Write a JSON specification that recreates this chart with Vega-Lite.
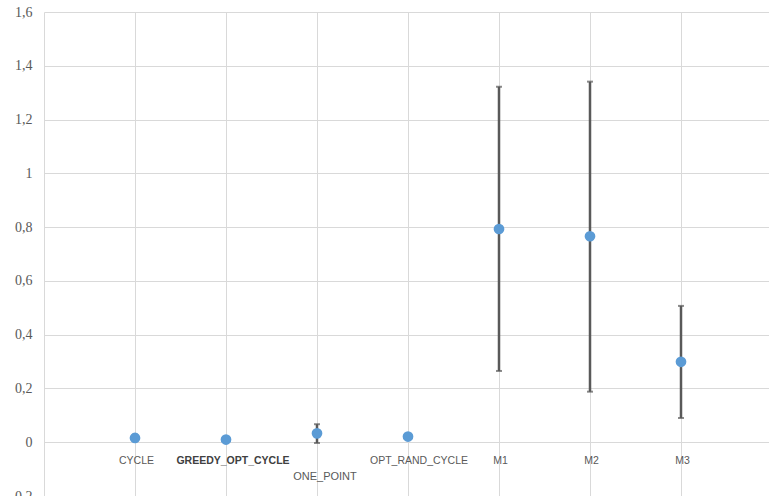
{
  "$schema": "https://vega.github.io/schema/vega-lite/v6.json",
  "autosize": "none",
  "padding": {"left": 44, "top": 12, "right": 0, "bottom": 0},
  "width": 728,
  "height": 484,
  "background": "white",
  "config": {"view": {"stroke": null}},
  "data": {
    "values": [
      {"cat": "CYCLE", "x": 1, "mean": 0.016, "lo": 0.006, "hi": 0.028},
      {"cat": "GREEDY_OPT_CYCLE", "x": 2, "mean": 0.010, "lo": 0.008, "hi": 0.012},
      {"cat": "ONE_POINT", "x": 3, "mean": 0.033, "lo": -0.003, "hi": 0.067},
      {"cat": "OPT_RAND_CYCLE", "x": 4, "mean": 0.021, "lo": 0.019, "hi": 0.023},
      {"cat": "M1", "x": 5, "mean": 0.793, "lo": 0.265, "hi": 1.322},
      {"cat": "M2", "x": 6, "mean": 0.766, "lo": 0.188, "hi": 1.341},
      {"cat": "M3", "x": 7, "mean": 0.299, "lo": 0.090, "hi": 0.507}
    ]
  },
  "encoding": {
    "x": {
      "field": "x", "type": "quantitative",
      "scale": {"domain": [0, 8], "nice": false, "zero": false},
      "axis": {"values": [0,1,2,3,4,5,6,7,8], "labels": false, "ticks": false, "domain": false, "title": null, "grid": true, "gridColor": "#D9D9D9", "gridWidth": 1}
    }
  },
  "layer": [
    {
      "mark": {"type": "rule", "color": "#595959", "strokeWidth": 2.5},
      "encoding": {
        "y": {
          "field": "lo", "type": "quantitative",
          "scale": {"domain": [-0.2, 1.6], "nice": false, "zero": false},
          "axis": {
            "values": [-0.2, 0, 0.2, 0.4, 0.6, 0.8, 1, 1.2, 1.4, 1.6],
            "labelExpr": "replace(toString(round(datum.value*10)/10), '.', ',')",
            "domain": false, "ticks": false, "title": null,
            "grid": true, "gridColor": "#D9D9D9", "gridWidth": 1,
            "labelFont": "Liberation Serif", "labelFontSize": 14, "labelColor": "#595959", "labelPadding": 12
          }
        },
        "y2": {"field": "hi"}
      }
    },
    {
      "mark": {"type": "tick", "orient": "horizontal", "color": "#595959", "size": 6, "thickness": 2},
      "encoding": {"y": {"field": "lo", "type": "quantitative"}}
    },
    {
      "mark": {"type": "tick", "orient": "horizontal", "color": "#595959", "size": 6, "thickness": 2},
      "encoding": {"y": {"field": "hi", "type": "quantitative"}}
    },
    {
      "mark": {"type": "circle", "color": "#5B9BD5", "opacity": 1, "size": 115},
      "encoding": {"y": {"field": "mean", "type": "quantitative"}}
    },
    {
      "transform": [{"filter": "datum.cat === 'CYCLE' || datum.cat === 'M1' || datum.cat === 'M2' || datum.cat === 'M3'"}],
      "mark": {"type": "text", "font": "Liberation Sans", "fontSize": 10.5, "color": "#595959", "dy": 19, "dx": 1.5, "baseline": "middle"},
      "encoding": {"y": {"datum": 0, "type": "quantitative"}, "text": {"field": "cat"}}
    },
    {
      "transform": [{"filter": "datum.cat === 'OPT_RAND_CYCLE'"}],
      "mark": {"type": "text", "font": "Liberation Sans", "fontSize": 10.5, "color": "#595959", "dy": 19, "dx": 11, "baseline": "middle"},
      "encoding": {"y": {"datum": 0, "type": "quantitative"}, "text": {"field": "cat"}}
    },
    {
      "transform": [{"filter": "datum.cat === 'GREEDY_OPT_CYCLE'"}],
      "mark": {"type": "text", "font": "Liberation Sans", "fontSize": 10.5, "fontWeight": "bold", "color": "#404040", "dy": 19, "dx": 7, "baseline": "middle"},
      "encoding": {"y": {"datum": 0, "type": "quantitative"}, "text": {"field": "cat"}}
    },
    {
      "transform": [{"filter": "datum.cat === 'ONE_POINT'"}],
      "mark": {"type": "text", "font": "Liberation Sans", "fontSize": 11, "color": "#595959", "dy": 35, "dx": 8, "baseline": "middle"},
      "encoding": {"y": {"datum": 0, "type": "quantitative"}, "text": {"field": "cat"}}
    }
  ]
}
